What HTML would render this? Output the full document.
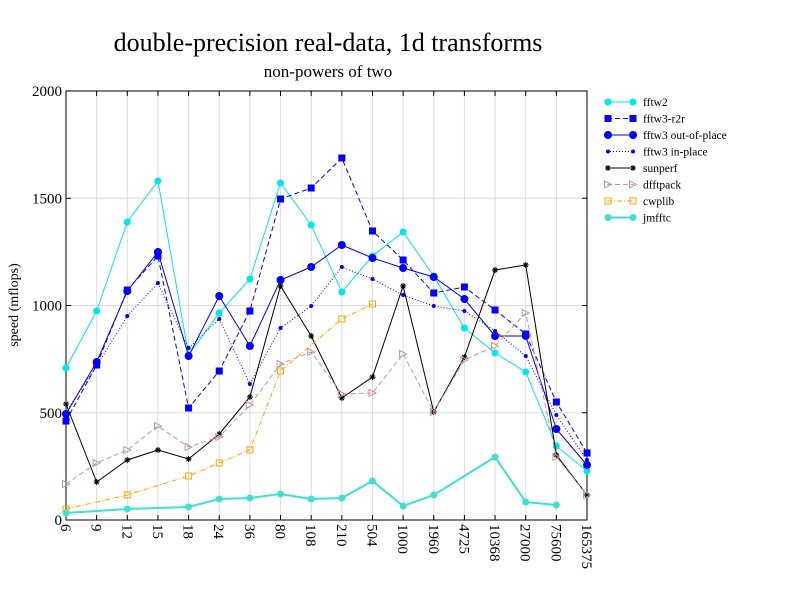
<!DOCTYPE html>
<html><head><meta charset="utf-8"><style>body{margin:0;background:#fff}svg{display:block}text{font-family:"Liberation Serif",serif}</style></head>
<body>
<svg id="s" width="792" height="612" viewBox="0 0 792 612" xmlns="http://www.w3.org/2000/svg">
<text x="328" y="51" font-size="26" text-anchor="middle">double-precision real-data, 1d transforms</text>
<text x="328" y="77" font-size="17" text-anchor="middle">non-powers of two</text>
<text transform="translate(18,305) rotate(-90)" font-size="14" text-anchor="middle">speed (mflops)</text>
<g id="g"></g>
</svg>
<script>
const g=document.getElementById('g');let h='';
const X0=66,X1=587,Y0=520,Y1=91;
const xs=[];for(let i=0;i<18;i++)xs.push(X0+(X1-X0)*i/17);
const labs=['6','9','12','15','18','24','36','80','108','210','504','1000','1960','4725','10368','27000','75600','165375'];
for(let i=0;i<18;i++){h+=`<line x1="${xs[i]}" y1="${Y1}" x2="${xs[i]}" y2="${Y0}" stroke="#ddd"/>`;
h+=`<line x1="${xs[i]}" y1="${Y0}" x2="${xs[i]}" y2="${Y0-5}" stroke="#000"/><line x1="${xs[i]}" y1="${Y1}" x2="${xs[i]}" y2="${Y1+5}" stroke="#000"/>`;
h+=`<text transform="translate(${xs[i]-5},${Y0+4}) rotate(90)" font-size="15">${labs[i]}</text>`;}
for(let v=0;v<=2000;v+=500){const y=Y0-(Y0-Y1)*v/2000;h+=`<line x1="${X0}" y1="${y}" x2="${X1}" y2="${y}" stroke="#ddd"/><line x1="${X0}" y1="${y}" x2="${X0+5}" y2="${y}" stroke="#000"/><line x1="${X1}" y1="${y}" x2="${X1-5}" y2="${y}" stroke="#000"/><text x="${X0-4}" y="${y+5}" font-size="15" text-anchor="end">${v}</text>`;}
h+=`<rect x="${X0}" y="${Y1}" width="${X1-X0}" height="${Y0-Y1}" fill="none" stroke="#000"/>`;
const S=[
['fftw2','#00e5ee','','c',3.5,[368,311,222,181,355,313,279,183,225,292,256,232,276,328,353,372,446,471],1],
['fftw3-r2r','#0000ff','5,3','s',3.5,[421,365,290,256,408,371,311,199,188,158,231,260,293,287,310,334,402,453],1],
['fftw3 out-of-place','#0000ff','','c',4,[414,362,291,252,356,296,346,280,267,245,258,268,277,299,336,336,429,465],1],
['fftw3 in-place','#0000ff','1,2','c',2,[412,366,316,283,348,319,384,328,306,267,279,295,306,311,331,356,415,460],1],
['sunperf','#000','','x',3,[404,482,460,450,459,434,397,286,336,398,377,286,412,357,270,265,455,495],1],
['dfftpack','#c09898','5,3','t',3.5,[484,463,450,426,447,437,405,364,352,394,393,354,412,360,346,313,457,495],1],
['cwplib','#ffa500','5,2,1,2','q',3,[509,null,495,null,476,463,450,371,null,319,304],1],
['jmfftc','#40e0d0','','c',3.5,[513,null,509,null,507,499,498,494,499,498,481,506,495,null,457,502,505],2]];
function mk(t,c,x,y,r){if(t=='c')return `<circle cx="${x}" cy="${y}" r="${r}" fill="${c}"/>`;
if(t=='s')return `<rect x="${x-r}" y="${y-r}" width="${2*r}" height="${2*r}" fill="${c}"/>`;
if(t=='q')return `<rect x="${x-r}" y="${y-r}" width="${2*r}" height="${2*r}" fill="none" stroke="${c}"/>`;
if(t=='t')return `<path d="M${x-r} ${y-r}L${x+r} ${y}L${x-r} ${y+r}Z" fill="none" stroke="${c}"/>`;
return `<path d="M${x-r} ${y}H${x+r}M${x} ${y-r}V${y+r}M${x-r*.7} ${y-r*.7}L${x+r*.7} ${y+r*.7}M${x-r*.7} ${y+r*.7}L${x+r*.7} ${y-r*.7}" stroke="${c}"/>`;}
S.forEach((s,k)=>{const[n,c,d,t,r,ys,w]=s;let pts=[];ys.forEach((y,i)=>{if(y!=null)pts.push([xs[i],y])});
h+=`<polyline points="${pts.map(p=>p.join(',')).join(' ')}" fill="none" stroke="${c}" stroke-width="${w}" ${d?`stroke-dasharray="${d}"`:''}/>`;
pts.forEach(p=>h+=mk(t,c,p[0],p[1],r));
const ly=102+k*16.5;h+=`<line x1="607" y1="${ly}" x2="634" y2="${ly}" stroke="${c}" stroke-width="${w}" ${d?`stroke-dasharray="${d}"`:''}/>`+mk(t,c,608,ly,r)+mk(t,c,633,ly,r)+`<text x="643" y="${ly+4}" font-size="11.5">${n}</text>`;});
g.innerHTML=h;
</script>
</body></html>
